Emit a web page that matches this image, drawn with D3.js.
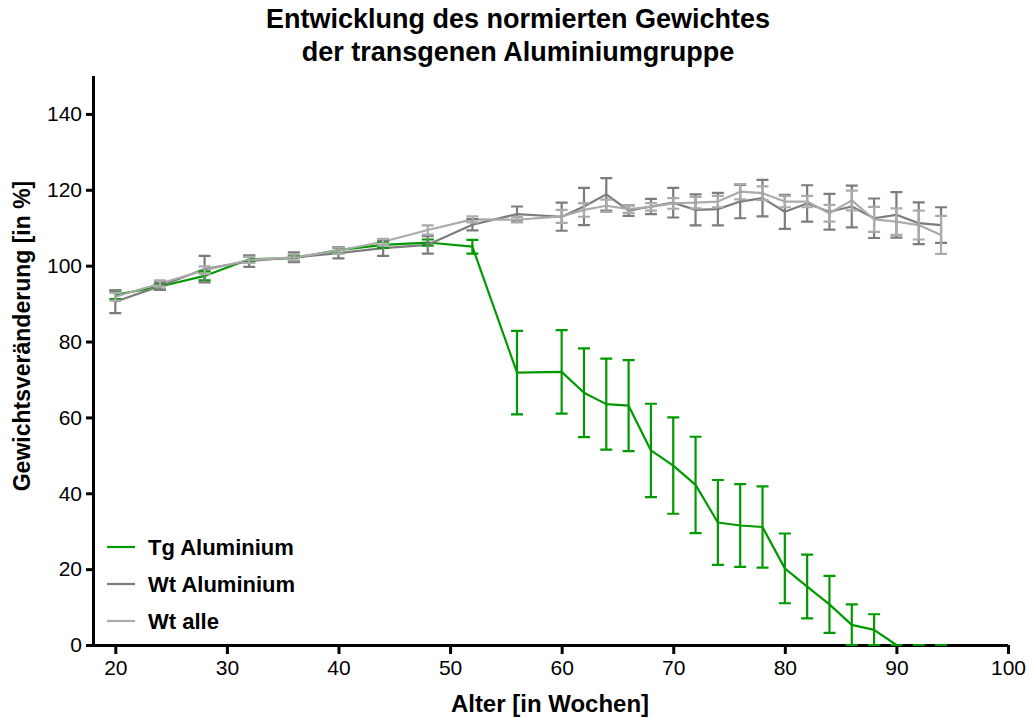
<!DOCTYPE html>
<html>
<head>
<meta charset="utf-8">
<script src="https://cdn.jsdelivr.net/npm/d3@7/dist/d3.min.js"></script>
<style>
  html, body { margin: 0; padding: 0; background: #fff; }
  svg { display: block; font-family: "Liberation Sans", Arial, sans-serif; }
</style>
</head>
<body>
<svg id="chart" width="1029" height="718"></svg>
<script>
// Age in weeks
const weeks = [20, 24, 28, 32, 36, 40, 44, 48, 52, 56, 60, 62, 64, 66, 68, 70, 72, 74, 76, 78, 80, 82, 84, 86, 88, 90, 92, 94];

// Tg Aluminium: mean and SEM of normalised weight (%)
const tgMean = [92.3, 94.5, 97.3, 101.7, 102.0, 104.1, 105.5, 106.1, 105.0, 71.8, 72.0, 66.5, 63.5, 63.1, 51.3, 47.3, 42.2, 32.3, 31.5, 31.1, 20.2, 15.4, 10.7, 5.3, 4.0, 0, 0, 0];
const tgSem  = [1.1, 0.8, 1.2, 0.8, 0.8, 0.8, 0.8, 0.8, 1.8, 11.0, 11.0, 11.7, 12.0, 12.0, 12.3, 12.7, 12.7, 11.2, 10.9, 10.7, 9.2, 8.4, 7.5, 5.4, 4.1, 0, 0, 0];

// Wt Aluminium
const wtAlMean = [90.5, 94.6, 99.1, 101.2, 102.2, 103.3, 104.6, 105.5, 110.8, 113.6, 112.9, 115.6, 118.8, 114.5, 115.6, 116.6, 114.7, 114.9, 116.9, 117.8, 114.2, 116.4, 114.2, 115.6, 112.5, 113.4, 111.2, 110.7];
const wtAlSem  = [3.0, 1.0, 3.5, 1.5, 1.3, 1.4, 2.0, 2.3, 1.5, 2.0, 3.7, 4.9, 4.3, 1.4, 2.0, 3.9, 4.1, 4.3, 4.4, 4.8, 4.5, 4.8, 4.7, 5.5, 5.2, 6.0, 5.5, 4.7];

// Wt alle
const wtAllMean = [91.8, 95.3, 98.8, 101.5, 102.2, 104.0, 106.3, 109.4, 112.2, 112.1, 113.0, 114.7, 115.8, 114.9, 115.5, 116.4, 116.6, 116.9, 119.5, 119.1, 116.9, 116.9, 113.8, 117.2, 112.2, 111.6, 110.7, 108.1];
const wtAllSem  = [1.0, 0.8, 1.0, 0.8, 0.8, 0.8, 0.8, 1.2, 0.8, 0.7, 1.7, 1.8, 1.6, 1.0, 1.0, 1.4, 1.5, 1.5, 2.0, 1.8, 1.5, 1.5, 2.2, 2.6, 3.3, 3.5, 3.8, 5.0];

const seriesNames = ["Tg Aluminium", "Wt Aluminium", "Wt alle"];
const seriesColors = ["#009a00", "#7c7c7c", "#ababab"];

const xTicks = [20, 30, 40, 50, 60, 70, 80, 90, 100];
const yTicks = [0, 20, 40, 60, 80, 100, 120, 140];

const titleLines = ["Entwicklung des normierten Gewichtes", "der transgenen Aluminiumgruppe"];
const xTitle = "Alter [in Wochen]";
const yTitle = "Gewichtsveränderung [in %]";

const series = [
  { name: seriesNames[0], color: seriesColors[0], mean: tgMean, sem: tgSem },
  { name: seriesNames[1], color: seriesColors[1], mean: wtAlMean, sem: wtAlSem },
  { name: seriesNames[2], color: seriesColors[2], mean: wtAllMean, sem: wtAllSem }
];

const svg = d3.select("#chart");

const x = d3.scaleLinear().domain([18, 100]).range([93, 1008]);
const y = d3.scaleLinear().domain([0, 150]).range([645, 76]);

// Title
svg.append("g").selectAll("text")
  .data(titleLines)
  .join("text")
  .attr("x", 518)
  .attr("y", (d, i) => 28 + i * 33)
  .attr("text-anchor", "middle")
  .attr("font-size", 27)
  .attr("font-weight", "bold")
  .text(d => d);

// Mean lines
const line = d3.line().x(d => x(d[0])).y(d => y(d[1]));
const lineLayer = svg.append("g");
series.forEach(s => {
  lineLayer.append("path")
    .datum(weeks.map((w, i) => [w, s.mean[i]]))
    .attr("fill", "none")
    .attr("stroke", s.color)
    .attr("stroke-width", 2.2)
    .attr("stroke-linejoin", "round")
    .attr("d", line);
});

// Axes
const yAxis = svg.append("g")
  .attr("transform", `translate(${x(18)},0)`)
  .call(d3.axisLeft(y).tickValues(yTicks).tickSize(7).tickSizeOuter(0).tickPadding(4));
const xAxis = svg.append("g")
  .attr("transform", `translate(0,${y(0)})`)
  .call(d3.axisBottom(x).tickValues(xTicks).tickSize(9).tickSizeOuter(0).tickPadding(6));

[yAxis, xAxis].forEach(g => {
  g.select(".domain").attr("stroke", "#000").attr("stroke-width", 3);
  g.selectAll(".tick line").attr("stroke", "#000").attr("stroke-width", 3);
  g.selectAll(".tick text")
    .attr("fill", "#000")
    .attr("font-size", 21)
    .attr("font-family", "'Liberation Sans', Arial, sans-serif");
});
yAxis.select(".domain").attr("d", `M0.5,${y(150)}V${y(0) + 1.5}`);
xAxis.select(".domain").attr("d", `M${x(18)},0.5H${x(100)}`);

// Error bars (mean ± SEM, lower end clipped at 0)
const capHalf = 6;
const errLayer = svg.append("g");
series.forEach(s => {
  const g = errLayer.append("g")
    .attr("stroke", s.color)
    .attr("stroke-width", 2.2)
    .attr("fill", "none");
  weeks.forEach((w, i) => {
    const hi = s.mean[i] + s.sem[i];
    const lo = Math.max(0, s.mean[i] - s.sem[i]);
    const cx = x(w);
    g.append("path")
      .attr("d", `M${cx},${y(hi)}V${y(lo)}M${cx - capHalf},${y(hi)}H${cx + capHalf}M${cx - capHalf},${y(lo)}H${cx + capHalf}`);
  });
});

// Axis titles
svg.append("text")
  .attr("x", 550)
  .attr("y", 712)
  .attr("text-anchor", "middle")
  .attr("font-size", 24)
  .attr("font-weight", "bold")
  .text(xTitle);

svg.append("text")
  .attr("transform", "translate(30,336) rotate(-90)")
  .attr("text-anchor", "middle")
  .attr("font-size", 23)
  .attr("font-weight", "bold")
  .text(yTitle);

// Legend
const legend = svg.append("g");
series.forEach((s, i) => {
  const ly = 547 + i * 37;
  legend.append("line")
    .attr("x1", 107).attr("x2", 135)
    .attr("y1", ly).attr("y2", ly)
    .attr("stroke", s.color)
    .attr("stroke-width", 2.2);
  legend.append("text")
    .attr("x", 148)
    .attr("y", ly + 8)
    .attr("font-size", 22)
    .attr("font-weight", "bold")
    .text(s.name);
});
</script>
</body>
</html>
